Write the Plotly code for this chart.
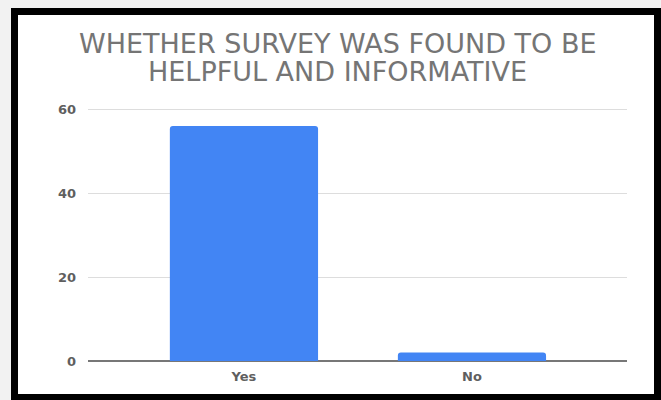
import plotly.graph_objects as go

categories = ["Yes", "No"]
values = [56, 2]
y_ticks = [0, 20, 40, 60]
title_lines = ["WHETHER SURVEY WAS FOUND TO BE", "HELPFUL AND INFORMATIVE"]

W, H = 661, 400
L, R, T, B = 88, 34, 108, 39
pw, ph = W - L - R, H - T - B

def px_x(p):
    return (p - L) / pw

def px_y(p):
    return (H - B - p) / ph

fig = go.Figure(go.Bar(
    x=list(range(len(categories))), y=values,
    marker=dict(color="#4285F4", line=dict(width=0)),
    width=0.65,
))

title_font = dict(size=27, color="#757575", family="DejaVu Sans, Arial, sans-serif")
annotations = []
for i, (line, cy) in enumerate(zip(title_lines, [43.5, 71.5])):
    annotations.append(dict(text=line, xref="paper", yref="paper",
                            x=px_x(337.5), y=px_y(cy), xanchor="center", yanchor="middle",
                            height=27, valign="middle",
                            showarrow=False, font=title_font))

fig.update_layout(
    width=W, height=H,
    margin=dict(l=L, r=R, t=T, b=B),
    paper_bgcolor="#f2f2f2",
    plot_bgcolor="white",
    barcornerradius=3,
    font=dict(family="DejaVu Sans, Arial, sans-serif", color="#555555", size=13),
    showlegend=False,
    annotations=annotations,
    shapes=[
        dict(type="rect", xref="paper", yref="paper", layer="below",
             x0=px_x(14.5), x1=px_x(657.5), y0=px_y(397.5), y1=px_y(11.5),
             fillcolor="white", line=dict(color="black", width=7)),
    ],
)

tick_font = dict(size=13, color="#5f5f5f", family="DejaVu Sans, Arial, sans-serif", weight="bold")

fig.update_xaxes(
    range=[-0.684, 1.68],
    tickmode="array", tickvals=list(range(len(categories))), ticktext=categories,
    showgrid=False, zeroline=False, showline=False,
    ticks="", ticklabelstandoff=6,
    tickfont=tick_font,
)
fig.update_yaxes(
    range=[0, 60.3],
    tickmode="array", tickvals=y_ticks,
    showgrid=True, gridcolor="#dddddd", gridwidth=1,
    zeroline=True, zerolinecolor="#777777", zerolinewidth=1.5,
    showline=False, ticks="", ticklabelstandoff=11,
    tickfont=tick_font,
)

fig.write_html("out.html")
